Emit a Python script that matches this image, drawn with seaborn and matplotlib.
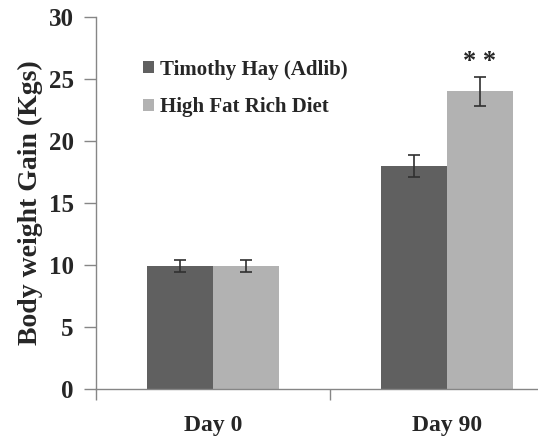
import numpy as np
import pandas as pd
import matplotlib
matplotlib.use("Agg")
import matplotlib.pyplot as plt
import seaborn as sns

# data
days = ["Day 0", "Day 90"]
groups = ["Timothy Hay (Adlib)", "High Fat Rich Diet"]
hay_gain = [9.9, 18.0]
hay_err = [0.5, 0.9]
hfd_gain = [9.9, 24.0]
hfd_err = [0.5, 1.2]
colors = ["#606060", "#b2b2b2"]

df = pd.DataFrame({
    "day": days * 2,
    "group": [groups[0]] * 2 + [groups[1]] * 2,
    "gain": hay_gain + hfd_gain,
    "err": hay_err + hfd_err,
})

sns.set_style("white")
plt.rcParams["font.family"] = ["Liberation Serif", "DejaVu Serif"]
plt.rcParams["font.weight"] = "bold"

fig = plt.figure(figsize=(5.38, 4.4), dpi=100)
ax = fig.add_axes([96 / 538, 1 - 389 / 440, 442 / 538, 372 / 440])

sns.barplot(data=df, x="day", y="gain", hue="group", palette=colors,
            width=0.565, errorbar=None, saturation=1, linewidth=0, ax=ax)

# error bars at the centres of the bars seaborn drew
for cont, g in zip(ax.containers, groups):
    sub = df[df["group"] == g]
    xs = [p.get_x() + p.get_width() / 2 for p in cont.patches]
    ax.errorbar(xs, sub["gain"], yerr=sub["err"], fmt="none",
                ecolor="#303030", elinewidth=1.2, capsize=4.5, capthick=1.2)

# significance mark over Day 90 high-fat bar
p = ax.containers[1].patches[1]
ax.text(p.get_x() + p.get_width() / 2, 26.4, "* *", ha="center", va="center",
        fontsize=19, fontweight="bold")

ax.set_ylim(0, 30)
ax.set_yticks(range(0, 31, 5))
ax.set_xticks([-0.5, 0.5, 1.5], minor=False)
ax.set_xticks([0, 1], minor=True)
ax.set_xticklabels([], minor=False)
ax.set_xticklabels(days, minor=True, fontsize=17, fontweight="bold")
ax.set_xlim(-0.5, -0.5 + 442 / 234)
ax.tick_params(axis="x", which="major", direction="out", length=8,
               color="#868686", width=1, bottom=True)
ax.tick_params(axis="x", which="minor", length=0, pad=19, bottom=True)
ax.tick_params(axis="y", direction="out", length=9, color="#868686",
               width=1, labelsize=18, pad=7, left=True)
for lab in ax.get_yticklabels():
    lab.set_fontweight("bold")

for s in ["top", "right"]:
    ax.spines[s].set_visible(False)
for s in ["left", "bottom"]:
    ax.spines[s].set_color("#868686")
    ax.spines[s].set_linewidth(1)

ax.set_xlabel("")
ax.set_ylabel("Body weight Gain (Kgs)", fontsize=20, fontweight="bold",
              labelpad=4)

leg = ax.legend(loc="upper left", bbox_to_anchor=(0.087, 0.908), frameon=False,
                fontsize=15, handlelength=0.55, handleheight=0.55,
                handletextpad=0.3, labelspacing=0.85, borderaxespad=0)
for t in leg.get_texts():
    t.set_fontweight("bold")

fig.savefig("out.png", dpi=100)
